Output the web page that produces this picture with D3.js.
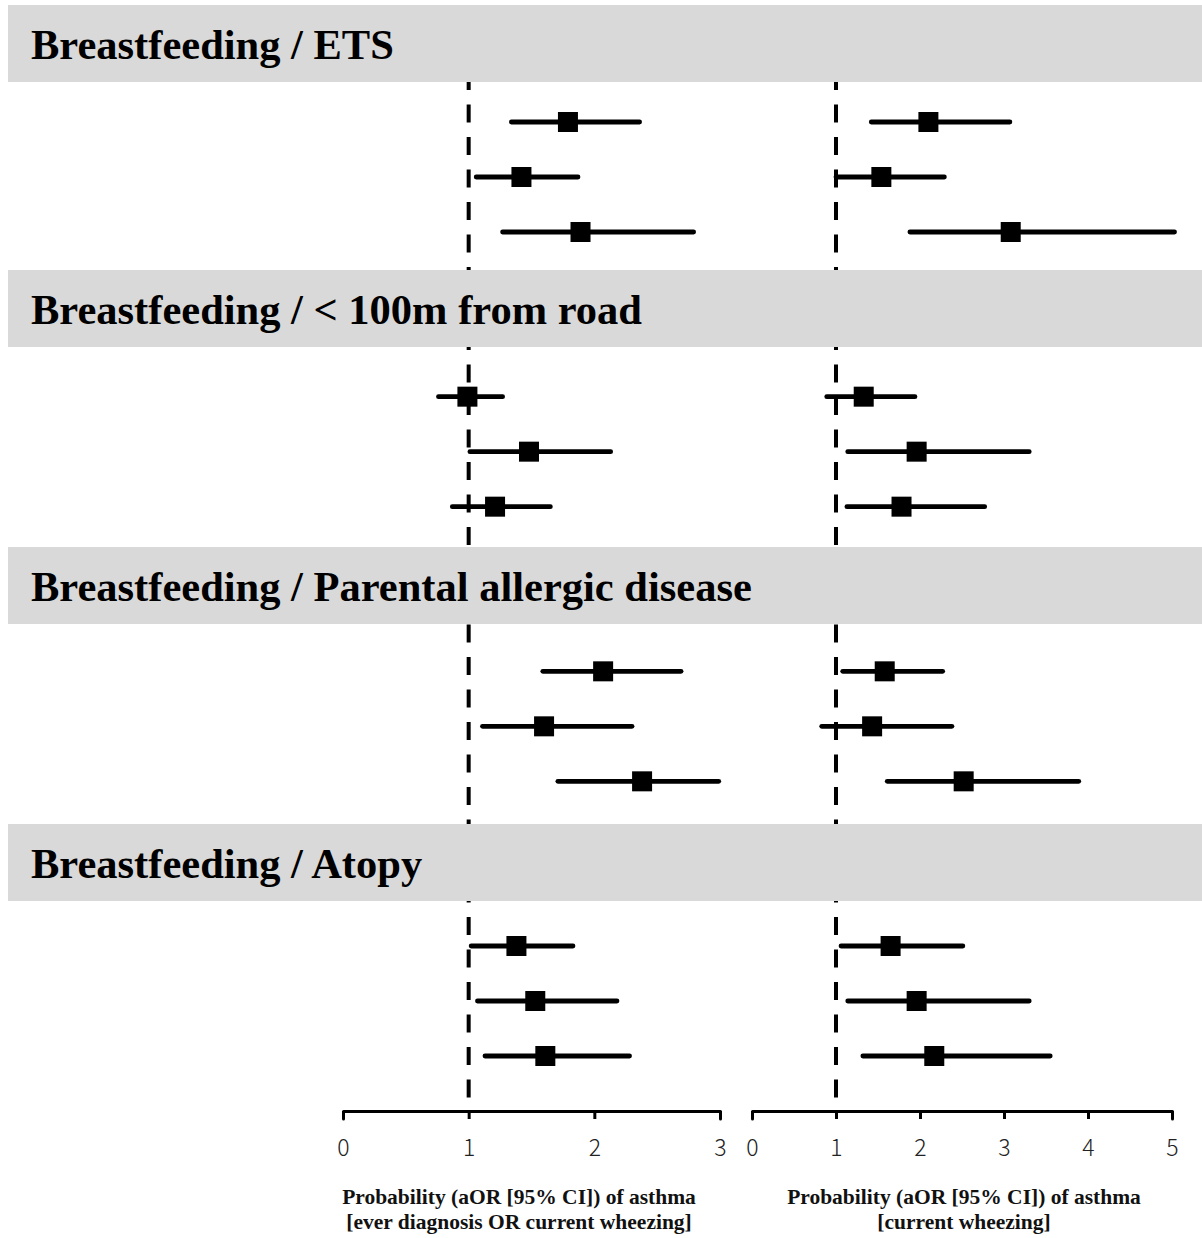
<!DOCTYPE html>
<html>
<head>
<meta charset="utf-8">
<script src="https://cdn.jsdelivr.net/npm/d3@7"></script>
<style>
  body { margin: 0; background: #fff; }
  svg { display: block; }
</style>
</head>
<body>
<svg width="1202" height="1238"></svg>
<script>
// panel titles (exposure pairs)
var panels = ["Breastfeeding / ETS", "Breastfeeding / < 100m from road",
  "Breastfeeding / Parental allergic disease", "Breastfeeding / Atopy"]

// left: asthma (ever diagnosis OR current wheezing) -- 3 rows per panel
var orLeft = [[1.79, 1.42, 1.89], [0.99, 1.48, 1.21], [2.07, 1.60, 2.38], [1.38, 1.53, 1.61]]
var loLeft = [[1.34, 1.06, 1.27], [0.76, 1.01, 0.87], [1.59, 1.11, 1.71], [1.02, 1.07, 1.13]]
var hiLeft = [[2.36, 1.87, 2.79], [1.27, 2.13, 1.65], [2.69, 2.30, 2.99], [1.83, 2.18, 2.28]]

// right: current wheezing
var orRight = [[2.10, 1.54, 3.08], [1.33, 1.96, 1.78], [1.58, 1.43, 2.52], [1.65, 1.96, 2.17]]
var loRight = [[1.42, 1.00, 1.88], [0.89, 1.14, 1.13], [1.08, 0.83, 1.61], [1.06, 1.14, 1.32]]
var hiRight = [[3.07, 2.29, 5.03], [1.94, 3.30, 2.77], [2.27, 2.38, 3.89], [2.51, 3.30, 3.55]]

var ticksLeft = [0, 1, 2, 3]
var ticksRight = [0, 1, 2, 3, 4, 5]

var titleLeft = ["Probability (aOR [95% CI]) of asthma", "[ever diagnosis OR current wheezing]"]
var titleRight = ["Probability (aOR [95% CI]) of asthma", "[current wheezing]"]

var svg = d3.select("svg"),
	axisY = 1111,
	boxSize = 20

var xL = d3.scaleLinear().domain([0, 3]).range([343, 720])
var xR = d3.scaleLinear().domain([0, 5]).range([752, 1172])

// first row of each panel, then rows 55px apart
var yPanel = d3.scaleLinear().domain([0, 3]).range([122, 946])
var yRow = d3.scaleLinear().domain([0, 2]).range([0, 110])

function bandTop(p) { return p == 0 ? 5 : 270 + 277 * (p - 1) }
var bandH = 77

// reference lines at OR = 1 (drawn first, bands cover them)
;[xL, xR].forEach(function(x) {
	svg.append("line")
		.attr("x1", x(1)).attr("x2", x(1))
		.attr("y1", 72).attr("y2", axisY)
		.style("stroke", "#000")
		.style("stroke-width", 4)
		.style("stroke-dasharray", "18,14.5")
})

// header bands
var heads = svg.selectAll("g.head").data(panels).enter().append("g").attr("class", "head")
heads.append("rect")
	.attr("x", 8).attr("width", 1202 - 8)
	.attr("y", (d, i) => bandTop(i))
	.attr("height", bandH)
	.style("fill", "#d9d9d9")
heads.append("text")
	.attr("x", 31)
	.attr("y", (d, i) => bandTop(i) + bandH / 2 + 15)
	.style("font-family", "'Liberation Serif', 'Times New Roman', serif")
	.style("font-weight", "bold")
	.style("font-size", "42.5px")
	.style("fill", "#000")
	.text(d => d)

function rows(or, lo, hi) {
	var out = []
	or.forEach(function(r, p) {
		r.forEach(function(v, k) { out.push({ p: p, k: k, or: v, lo: lo[p][k], hi: hi[p][k] }) })
	})
	return out
}

function drawSide(data, x) {
	var g = svg.append("g")
	var y = d => yPanel(d.p) + yRow(d.k)
	g.selectAll("line.ci").data(data).enter().append("line")
		.attr("class", "ci")
		.attr("x1", d => x(d.lo)).attr("x2", d => x(d.hi))
		.attr("y1", y).attr("y2", y)
		.style("stroke", "#000")
		.style("stroke-width", 4.8)
		.style("stroke-linecap", "round")
	g.selectAll("rect.pt").data(data).enter().append("rect")
		.attr("class", "pt")
		.attr("x", d => x(d.or) - boxSize / 2)
		.attr("y", d => y(d) - boxSize / 2)
		.attr("width", boxSize).attr("height", boxSize)
		.style("fill", "#000")
}

drawSide(rows(orLeft, loLeft, hiLeft), xL)
drawSide(rows(orRight, loRight, hiRight), xR)

// axes
function drawAxis(x, ticks) {
	var a = svg.append("g")
		.attr("transform", "translate(0," + axisY + ")")
		.call(d3.axisBottom(x).tickValues(ticks).tickFormat(d3.format("d"))
			.tickSize(8).tickSizeOuter(8).tickPadding(21))
	a.select(".domain").style("stroke-width", 3).style("stroke-linejoin", "round").style("stroke-linecap", "round")
	a.selectAll(".tick line").style("stroke-width", 3)
	a.selectAll(".tick text")
		.style("font-family", "'Noto Sans CJK KR', 'Noto Sans', sans-serif")
		.style("font-weight", 300)
		.style("font-size", "23px")
		.style("fill", "#222")
}
drawAxis(xL, ticksLeft)
drawAxis(xR, ticksRight)

function drawTitle(lines, cx) {
	svg.append("g").selectAll("text").data(lines).enter().append("text")
		.attr("x", cx)
		.attr("y", (d, i) => 1204 + i * 25)
		.attr("text-anchor", "middle")
		.style("font-family", "'Liberation Serif', 'Times New Roman', serif")
		.style("font-weight", "bold")
		.style("font-size", "21.5px")
		.style("fill", "#111")
		.text(d => d)
}
drawTitle(titleLeft, 519)
drawTitle(titleRight, 964)
</script>
</body>
</html>
